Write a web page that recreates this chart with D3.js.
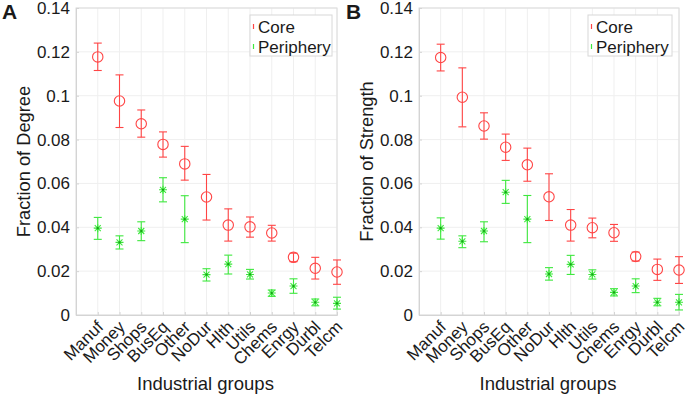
<!DOCTYPE html>
<html lang="en">
<head>
<meta charset="utf-8">
<title>Core / Periphery fractions</title>
<script src="https://d3js.org/d3.v7.min.js"></script>
<style>
  body { margin: 0; background: #fff; }
  svg text { font-family: "Liberation Sans", Arial, sans-serif; fill: #1a1a1a; }
  .axis path, .axis line { stroke: #d4d4d4; }
  .axis text { font-size: 17px; }
</style>
</head>
<body>
<script>
// categories on the x axis
const groups = ["Manuf", "Money", "Shops", "BusEq", "Other", "NoDur", "Hlth", "Utils", "Chems", "Enrgy", "Durbl", "Telcm"];
const yTicks = [0, 0.02, 0.04, 0.06, 0.08, 0.1, 0.12, 0.14];

// panel A: fraction of degree
const degCore   = [0.1177, 0.0976, 0.0872, 0.0778, 0.0689, 0.0538, 0.0410, 0.0402, 0.0374, 0.0263, 0.0213, 0.0196];
const degCoreLo = [0.1115, 0.0855, 0.0811, 0.0720, 0.0615, 0.0433, 0.0337, 0.0355, 0.0337, 0.0243, 0.0164, 0.0140];
const degCoreHi = [0.1240, 0.1095, 0.0935, 0.0835, 0.0769, 0.0641, 0.0484, 0.0447, 0.0409, 0.0282, 0.0263, 0.0251];
const degPer    = [0.0396, 0.0331, 0.0383, 0.0571, 0.0437, 0.0184, 0.0232, 0.0185, 0.0100, 0.0132, 0.0058, 0.0053];
const degPerLo  = [0.0345, 0.0301, 0.0339, 0.0516, 0.0330, 0.0155, 0.0187, 0.0164, 0.0085, 0.0099, 0.0042, 0.0027];
const degPerHi  = [0.0445, 0.0361, 0.0425, 0.0626, 0.0544, 0.0211, 0.0273, 0.0208, 0.0114, 0.0165, 0.0073, 0.0081];

// panel B: fraction of strength
const strCore   = [0.1174, 0.0993, 0.0862, 0.0765, 0.0685, 0.0539, 0.0410, 0.0398, 0.0375, 0.0267, 0.0208, 0.0205];
const strCoreLo = [0.1113, 0.0858, 0.0802, 0.0705, 0.0610, 0.0431, 0.0337, 0.0352, 0.0336, 0.0246, 0.0158, 0.0144];
const strCoreHi = [0.1235, 0.1127, 0.0922, 0.0825, 0.0761, 0.0644, 0.0481, 0.0442, 0.0413, 0.0287, 0.0255, 0.0266];
const strPer    = [0.0396, 0.0336, 0.0383, 0.0560, 0.0437, 0.0187, 0.0231, 0.0185, 0.0103, 0.0132, 0.0058, 0.0058];
const strPerLo  = [0.0346, 0.0307, 0.0334, 0.0509, 0.0330, 0.0159, 0.0185, 0.0164, 0.0087, 0.0102, 0.0042, 0.0023];
const strPerHi  = [0.0443, 0.0361, 0.0425, 0.0614, 0.0545, 0.0216, 0.0272, 0.0206, 0.0120, 0.0165, 0.0076, 0.0094];

const W = 692, H = 396;
const red = "#ff4545", green = "#3ee83e";

const svg = d3.select("body").append("svg")
    .attr("width", W)
    .attr("height", H);

function panel(opts) {
    const x = d3.scaleLinear().domain([0, 12]).range([opts.left, opts.right]);
    const y = d3.scaleLinear().domain([0, 0.14]).range([315, 8]);
    const g = svg.append("g");

    // grid
    g.selectAll(".vgrid").data(groups).enter().append("line")
        .attr("x1", (d, i) => x(i + 1)).attr("x2", (d, i) => x(i + 1))
        .attr("y1", y(0)).attr("y2", y(0.14))
        .attr("stroke", "#efefef");
    g.selectAll(".hgrid").data(yTicks).enter().append("line")
        .attr("x1", x(0)).attr("x2", x(12))
        .attr("y1", d => y(d)).attr("y2", d => y(d))
        .attr("stroke", "#efefef");

    // box
    g.append("rect")
        .attr("x", x(0)).attr("y", y(0.14))
        .attr("width", x(12) - x(0)).attr("height", y(0) - y(0.14))
        .attr("fill", "none").attr("stroke", "#dcdcdc");

    // axes
    const leftAxis = d3.axisLeft(y).tickValues(yTicks)
        .tickFormat(d => d === 0 ? "0" : String(+d.toFixed(2)))
        .tickSize(-3).tickPadding(6);
    g.append("g").attr("class", "axis")
        .attr("transform", "translate(" + x(0) + ",0)")
        .call(leftAxis);

    const bottomAxis = d3.axisBottom(x).tickValues(d3.range(1, 13))
        .tickFormat(d => groups[d - 1]).tickSize(-3);
    const bx = g.append("g").attr("class", "axis")
        .attr("transform", "translate(0," + y(0) + ")")
        .call(bottomAxis);
    bx.selectAll("text")
        .attr("text-anchor", "end")
        .attr("font-size", "18px")
        .attr("dy", null)
        .attr("y", 0)
        .attr("transform", "translate(6,13) rotate(-45)");

    // axis titles
    g.append("text")
        .attr("transform", "translate(" + (opts.left - 46) + "," + y(0.07) + ") rotate(-90)")
        .attr("text-anchor", "middle")
        .attr("font-size", "18.3px")
        .text(opts.ylabel);
    g.append("text")
        .attr("x", (x(0) + x(12)) / 2 - 1)
        .attr("y", 390)
        .attr("text-anchor", "middle")
        .attr("font-size", "18.5px")
        .text("Industrial groups");

    // panel letter
    g.append("text")
        .attr("x", opts.letterX).attr("y", 19)
        .attr("font-size", "21px").attr("font-weight", "bold")
        .text(opts.letter);

    // error bars
    function errBars(vals, lo, hi, color) {
        const eb = g.append("g").attr("stroke", color).attr("stroke-width", 1.1);
        eb.selectAll(".v").data(vals).enter().append("line")
            .attr("x1", (d, i) => x(i + 1)).attr("x2", (d, i) => x(i + 1))
            .attr("y1", (d, i) => y(lo[i])).attr("y2", (d, i) => y(hi[i]));
        eb.selectAll(".lo").data(vals).enter().append("line")
            .attr("x1", (d, i) => x(i + 1) - 4).attr("x2", (d, i) => x(i + 1) + 4)
            .attr("y1", (d, i) => y(lo[i])).attr("y2", (d, i) => y(lo[i]));
        eb.selectAll(".hi").data(vals).enter().append("line")
            .attr("x1", (d, i) => x(i + 1) - 4).attr("x2", (d, i) => x(i + 1) + 4)
            .attr("y1", (d, i) => y(hi[i])).attr("y2", (d, i) => y(hi[i]));
        return eb;
    }

    errBars(opts.core, opts.coreLo, opts.coreHi, red)
        .selectAll("circle").data(opts.core).enter().append("circle")
        .attr("cx", (d, i) => x(i + 1)).attr("cy", d => y(d))
        .attr("r", 5.2).attr("fill", "none");

    const pb = errBars(opts.per, opts.perLo, opts.perHi, green);
    pb.selectAll(".star").data(opts.per).enter().append("path")
        .attr("transform", (d, i) => "translate(" + x(i + 1) + "," + y(d) + ")")
        .attr("d", "M-4,0H4M0,-4V4M-3,-3L3,3M-3,3L3,-3")
        .attr("fill", "none");
    pb.selectAll(".dot").data(opts.per).enter().append("circle")
        .attr("cx", (d, i) => x(i + 1)).attr("cy", d => y(d))
        .attr("r", 1.1).attr("fill", "#1a9a1a").attr("stroke", "none");

    // legend
    const lg = g.append("g").attr("transform", "translate(" + opts.legX + ",15)");
    lg.append("rect").attr("width", opts.legW).attr("height", 41)
        .attr("fill", "#fff").attr("stroke", "#d8d8d8");
    lg.append("line").attr("x1", 3.5).attr("x2", 3.5).attr("y1", 9).attr("y2", 14)
        .attr("stroke", red).attr("stroke-width", 1.2);
    lg.append("line").attr("x1", 3.5).attr("x2", 3.5).attr("y1", 29).attr("y2", 34)
        .attr("stroke", green).attr("stroke-width", 1.2);
    lg.append("text").attr("x", 8).attr("y", 17.5).attr("font-size", "17px").text("Core");
    lg.append("text").attr("x", 8).attr("y", 37.5).attr("font-size", "17px").text("Periphery");
}

panel({
    left: 76, right: 337, letter: "A", letterX: 2, legX: 250, legW: 82,
    ylabel: "Fraction of Degree",
    core: degCore, coreLo: degCoreLo, coreHi: degCoreHi,
    per: degPer, perLo: degPerLo, perHi: degPerHi
});

panel({
    left: 419, right: 679, letter: "B", letterX: 346, legX: 588, legW: 84,
    ylabel: "Fraction of Strength",
    core: strCore, coreLo: strCoreLo, coreHi: strCoreHi,
    per: strPer, perLo: strPerLo, perHi: strPerHi
});
</script>
</body>
</html>
